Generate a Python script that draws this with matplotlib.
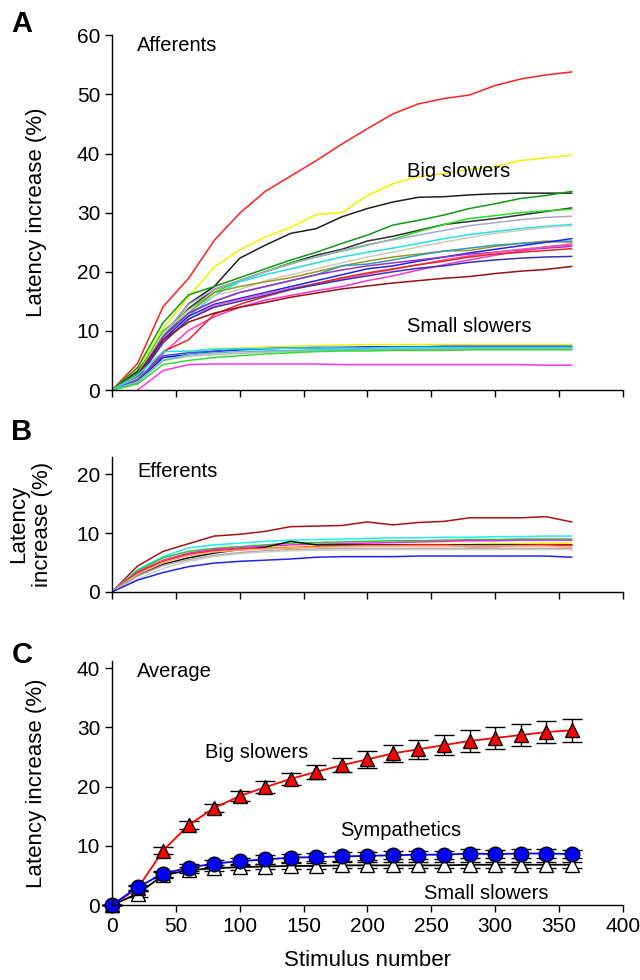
import numpy as np
import matplotlib
matplotlib.use("Agg")
import matplotlib.pyplot as plt

plt.rcParams.update({
    "font.family": ["Liberation Sans", "DejaVu Sans"],
    "font.size": 14,
    "axes.linewidth": 1.0,
})

# stimulus numbers (every 20th stimulus)
stim = np.arange(0, 361, 20)

# ---- A: afferents, big slowers (colour, values)
aff_big = [
    ("#FF2020", [0, 4.5, 14.1, 18.9, 25.3, 29.9, 33.6, 36.2, 38.8, 41.6, 44.2, 46.7, 48.4, 49.3, 49.9, 51.5, 52.6, 53.3, 53.8]),
    ("#F0F000", [0, 3.5, 10.5, 15.8, 20.8, 23.7, 25.9, 27.5, 29.7, 30.0, 32.9, 34.9, 36.1, 36.6, 37.3, 37.8, 38.8, 39.3, 39.7]),
    ("#202020", [0, 3.2, 9.0, 14.6, 17.5, 22.3, 24.5, 26.5, 27.3, 29.3, 30.7, 31.8, 32.6, 32.7, 33.0, 33.2, 33.3, 33.3, 33.3]),
    ("#119911", [0, 3.8, 11.4, 16.1, 17.5, 19.0, 20.5, 22.0, 23.3, 24.8, 26.2, 27.9, 28.7, 29.6, 30.7, 31.5, 32.4, 32.9, 33.6]),
    ("#303030", [0, 3.0, 9.0, 13.8, 17.0, 18.5, 20.0, 21.5, 22.8, 23.8, 25.2, 26.0, 27.0, 28.0, 28.5, 29.0, 29.6, 30.2, 30.8]),
    ("#22DD22", [0, 2.8, 10.0, 13.5, 16.5, 18.5, 20.0, 21.5, 22.5, 23.5, 24.5, 25.5, 26.8, 28.0, 29.0, 29.5, 30.0, 30.3, 30.6]),
    ("#A8A8CC", [0, 2.5, 9.5, 14.5, 17.0, 18.5, 20.0, 21.3, 22.5, 23.6, 24.6, 25.4, 26.2, 27.0, 27.8, 28.3, 28.8, 29.2, 29.4]),
    ("#22E0E8", [0, 2.6, 9.0, 12.5, 16.0, 18.3, 19.5, 20.5, 21.5, 22.5, 23.3, 24.0, 24.8, 25.6, 26.3, 26.8, 27.3, 27.7, 28.0]),
    ("#CCCCBB", [0, 2.4, 9.5, 13.5, 16.0, 17.0, 18.5, 19.5, 20.5, 21.5, 22.5, 23.3, 24.2, 25.0, 25.8, 26.5, 27.0, 27.5, 27.8]),
    ("#999922", [0, 2.5, 9.0, 13.0, 16.5, 17.5, 18.3, 19.0, 20.0, 21.0, 21.8, 22.5, 23.0, 23.5, 23.6, 24.3, 24.8, 25.2, 25.0]),
    ("#3399BB", [0, 2.4, 9.0, 13.0, 15.0, 16.5, 17.5, 18.5, 19.5, 21.0, 21.3, 22.0, 22.8, 23.5, 24.0, 24.5, 24.8, 25.0, 25.2]),
    ("#2222EE", [0, 2.2, 8.5, 12.5, 14.5, 15.5, 16.5, 17.5, 18.5, 19.5, 20.5, 21.0, 21.8, 22.5, 23.2, 23.8, 24.4, 25.0, 25.6]),
    ("#9933CC", [0, 2.3, 9.0, 13.0, 15.0, 16.5, 17.5, 18.5, 19.5, 20.3, 21.0, 21.5, 22.0, 22.5, 23.0, 23.3, 23.7, 24.0, 24.3]),
    ("#FF33CC", [0, 1.2, 6.2, 10.1, 12.4, 14.0, 15.2, 16.0, 16.8, 17.5, 18.5, 19.3, 20.3, 21.2, 22.0, 22.8, 23.5, 24.2, 24.7]),
    ("#EE55AA", [0, 1.8, 8.0, 12.0, 14.3, 15.3, 16.3, 17.2, 18.0, 18.8, 19.6, 20.4, 21.2, 22.0, 22.7, 23.3, 23.8, 24.2, 24.5]),
    ("#EE2222", [0, 1.5, 6.5, 8.5, 12.8, 14.5, 15.8, 17.0, 18.0, 19.0, 19.8, 20.5, 21.2, 21.8, 22.5, 23.0, 23.3, 23.6, 23.9]),
    ("#3333BB", [0, 2.0, 8.0, 12.0, 14.0, 15.0, 16.0, 17.0, 17.8, 18.6, 19.3, 20.0, 20.6, 21.0, 21.6, 22.0, 22.3, 22.5, 22.6]),
    ("#991111", [0, 2.6, 8.5, 11.5, 13.0, 14.0, 14.8, 15.7, 16.4, 17.1, 17.6, 18.1, 18.5, 18.9, 19.2, 19.7, 20.1, 20.4, 20.9]),
]

# ---- A: afferents, small slowers
aff_small = [
    ("#F0F000", [0, 2.0, 5.5, 6.5, 7.0, 7.1, 7.3, 7.4, 7.5, 7.6, 7.7, 7.7, 7.7, 7.7, 7.7, 7.7, 7.7, 7.7, 7.7]),
    ("#1111CC", [0, 1.5, 5.5, 6.0, 6.5, 6.8, 7.0, 7.1, 7.2, 7.2, 7.3, 7.3, 7.3, 7.4, 7.4, 7.4, 7.4, 7.4, 7.4]),
    ("#3355FF", [0, 1.8, 5.8, 6.3, 6.6, 6.9, 7.0, 7.1, 7.1, 7.2, 7.2, 7.2, 7.3, 7.3, 7.3, 7.3, 7.3, 7.3, 7.3]),
    ("#22E0F0", [0, 2.5, 6.5, 6.6, 6.9, 7.0, 7.0, 7.1, 7.1, 7.1, 7.1, 7.2, 7.2, 7.2, 7.2, 7.2, 7.2, 7.2, 7.2]),
    ("#BBBBBB", [0, 1.4, 5.0, 5.7, 6.0, 6.2, 6.4, 6.5, 6.6, 6.7, 6.8, 6.9, 6.9, 7.0, 7.0, 7.0, 7.0, 7.0, 7.0]),
    ("#66BBBB", [0, 1.3, 5.0, 6.0, 6.3, 6.5, 6.6, 6.7, 6.8, 6.8, 6.9, 6.9, 6.9, 6.9, 6.9, 6.9, 6.9, 6.9, 6.9]),
    ("#33DD33", [0, 1.0, 4.3, 5.0, 5.5, 5.8, 6.1, 6.3, 6.5, 6.6, 6.6, 6.7, 6.7, 6.7, 6.8, 6.8, 6.8, 6.8, 6.8]),
    ("#FF33EE", [np.nan, 0, 3.3, 4.3, 4.4, 4.4, 4.4, 4.4, 4.4, 4.3, 4.3, 4.3, 4.3, 4.3, 4.3, 4.3, 4.3, 4.2, 4.2]),
]

# ---- B: efferents
eff = [
    ("#AA1111", [0, 4.4, 6.9, 8.2, 9.5, 9.8, 10.3, 11.1, 11.2, 11.3, 11.9, 11.4, 11.8, 12.0, 12.6, 12.6, 12.6, 12.8, 11.9]),
    ("#22EEEE", [0, 3.8, 6.0, 7.5, 8.0, 8.3, 8.6, 8.8, 8.9, 9.0, 9.1, 9.2, 9.2, 9.3, 9.3, 9.4, 9.4, 9.5, 9.5]),
    ("#22CC22", [0, 3.6, 5.8, 6.9, 7.4, 7.7, 8.0, 8.3, 8.4, 8.5, 8.6, 8.7, 8.7, 8.8, 8.9, 8.9, 9.0, 9.0, 9.0]),
    ("#EE22EE", [0, 3.4, 5.4, 6.6, 7.2, 7.5, 7.8, 8.0, 8.1, 8.2, 8.3, 8.4, 8.5, 8.6, 8.7, 8.7, 8.8, 8.8, 8.8]),
    ("#EEEE00", [0, 3.2, 5.2, 6.2, 6.8, 7.2, 7.5, 7.7, 7.8, 7.9, 8.0, 8.0, 8.1, 8.1, 8.1, 8.2, 8.2, 8.3, 8.3]),
    ("#111111", [0, 2.8, 4.7, 5.8, 6.6, 7.2, 7.6, 8.6, 8.0, 8.0, 8.0, 8.0, 8.0, 8.0, 8.0, 8.0, 8.0, 8.0, 8.0]),
    ("#FF2222", [0, 3.3, 5.2, 6.4, 7.0, 7.3, 7.4, 7.5, 7.7, 7.8, 7.9, 7.9, 8.0, 8.0, 7.7, 7.7, 7.9, 8.0, 7.9]),
    ("#FFAA77", [0, 3.0, 5.0, 6.2, 6.8, 7.1, 7.3, 7.5, 7.6, 7.7, 7.8, 7.8, 7.8, 7.8, 7.8, 7.8, 7.8, 7.8, 7.6]),
    ("#AAAAAA", [0, 2.7, 4.5, 5.5, 6.2, 6.7, 7.0, 7.2, 7.3, 7.4, 7.4, 7.4, 7.4, 7.4, 7.4, 7.4, 7.4, 7.4, 7.4]),
    ("#D0D0C8", [0, 2.2, 4.0, 5.2, 6.0, 6.5, 6.8, 7.0, 7.1, 7.1, 7.2, 7.2, 7.2, 7.2, 7.2, 7.2, 7.2, 7.2, 7.2]),
    ("#2222EE", [0, 2.0, 3.3, 4.3, 4.9, 5.2, 5.4, 5.6, 5.9, 6.0, 6.0, 6.0, 6.1, 6.1, 6.1, 6.1, 6.1, 6.1, 5.9]),
]

# ---- C: averages with SEM
big_mean = [0, 2.8, 9.2, 13.5, 16.4, 18.4, 19.9, 21.3, 22.5, 23.6, 24.6, 25.6, 26.3, 27.0, 27.7, 28.2, 28.7, 29.2, 29.5]
big_sem = [0, 0.4, 0.6, 0.7, 0.7, 0.8, 1.0, 1.0, 1.2, 1.2, 1.4, 1.5, 1.6, 1.7, 1.8, 1.8, 1.9, 1.9, 1.9]
sym_mean = [0, 3.0, 5.3, 6.3, 7.0, 7.4, 7.7, 8.0, 8.1, 8.2, 8.3, 8.4, 8.5, 8.5, 8.7, 8.6, 8.7, 8.7, 8.6]
sym_sem = [0, 0.4, 0.5, 0.6, 0.6, 0.6, 0.7, 0.7, 0.7, 0.7, 0.7, 0.7, 0.7, 0.7, 0.7, 0.7, 0.7, 0.7, 0.7]
small_mean = [0, 1.9, 5.0, 5.9, 6.2, 6.4, 6.5, 6.6, 6.6, 6.7, 6.7, 6.7, 6.7, 6.7, 6.8, 6.8, 6.8, 6.8, 6.8]
small_sem = [0, 0.5, 0.5, 0.5, 0.5, 0.5, 0.5, 0.5, 0.5, 0.5, 0.5, 0.5, 0.5, 0.5, 0.5, 0.5, 0.5, 0.5, 0.5]

fig = plt.figure(figsize=(6.4, 9.8), dpi=100)
axA = fig.add_axes([0.175, 0.602, 0.798, 0.362])
axB = fig.add_axes([0.175, 0.396, 0.798, 0.138])
axC = fig.add_axes([0.175, 0.0765, 0.798, 0.249])


def style(ax, ymax, yticks, show_x):
    ax.set_xlim(0, 400)
    ax.set_ylim(0, ymax)
    ax.set_xticks(np.arange(0, 401, 50))
    ax.set_yticks(yticks)
    for s in ["top", "right"]:
        ax.spines[s].set_visible(False)
    ax.tick_params(direction="out", length=5, width=1, labelsize=15)
    if not show_x:
        ax.set_xticklabels([])


for c, v in aff_big + aff_small:
    axA.plot(stim, v, color=c, lw=1.1)
style(axA, 60, np.arange(0, 61, 10), False)
axA.set_ylabel("Latency increase (%)", fontsize=16)
axA.yaxis.set_label_coords(-0.128, 0.5)
axA.text(19.6, 58.3, "Afferents", fontsize=14.5, va="center")
axA.text(231, 37.0, "Big slowers", fontsize=14.5, va="center")
axA.text(231, 10.8, "Small slowers", fontsize=14.5, va="center")

for c, v in eff:
    axB.plot(stim, v, color=c, lw=1.1)
style(axB, 23, [0, 10, 20], False)
axB.set_ylabel("Latency\nincrease (%)", fontsize=16, linespacing=1.2)
axB.yaxis.set_label_coords(-0.115, 0.5)
axB.text(19.6, 20.5, "Efferents", fontsize=14.5, va="center")

ekw = dict(ecolor="black", elinewidth=1.0, capsize=7, capthick=1.0, markersize=10.5,
           markeredgecolor="black", markeredgewidth=1.0, lw=1.3)
axC.errorbar(stim, small_mean, yerr=small_sem, fmt="^-", color="black",
             markerfacecolor="white", **ekw)
axC.errorbar(stim, big_mean, yerr=big_sem, fmt="^-", color="red",
             markerfacecolor="red", **ekw)
axC.errorbar(stim, sym_mean, yerr=sym_sem, fmt="o-", color="blue",
             markerfacecolor="blue", **ekw)
style(axC, 41.2, [0, 10, 20, 30, 40], True)
for m in axC.lines:
    m.set_clip_on(False)
axC.set_ylabel("Latency increase (%)", fontsize=16)
axC.yaxis.set_label_coords(-0.128, 0.5)
axC.set_xlabel("Stimulus number", fontsize=16)
axC.xaxis.set_label_coords(0.5, -0.185)
axC.text(19.6, 39.5, "Average", fontsize=14.5, va="center")
axC.text(73, 25.8, "Big slowers", fontsize=14.5, va="center")
axC.text(179, 12.5, "Sympathetics", fontsize=14.5, va="center")
axC.text(244, 2.0, "Small slowers", fontsize=14.5, va="center")

fig.text(0.034, 0.976, "A", fontsize=21, fontweight="bold", ha="center", va="center")
fig.text(0.034, 0.559, "B", fontsize=21, fontweight="bold", ha="center", va="center")
fig.text(0.034, 0.332, "C", fontsize=21, fontweight="bold", ha="center", va="center")

fig.savefig("out.png", dpi=100)
